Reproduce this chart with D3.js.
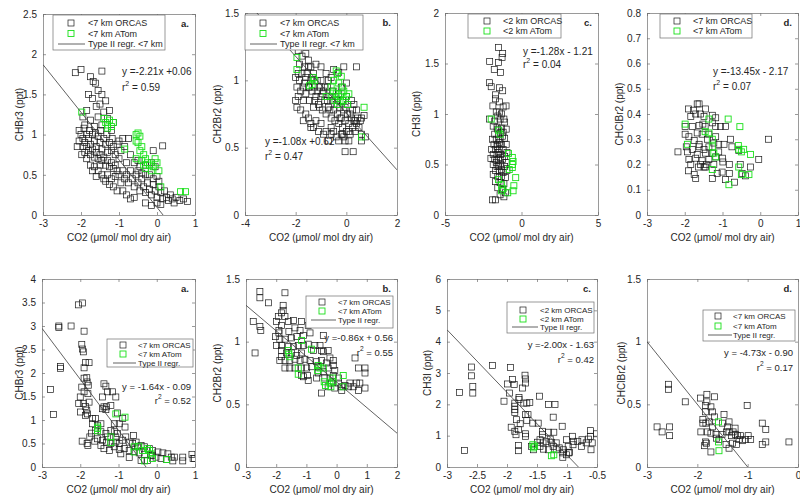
<!DOCTYPE html>
<html>
<head>
<meta charset="utf-8">
<script src="https://cdn.jsdelivr.net/npm/d3@7"></script>
<style>
  body { margin: 0; background: #fff; }
  svg { font-family: "Liberation Sans", Arial, sans-serif; }
</style>
</head>
<body>
<svg id="chart" width="800" height="500"></svg>
<script>
// ---- data: [CO2, tracer] pairs ----
const orcasA1 = [[-2.15,1.77],[-2.0,1.81],[-1.45,1.79],[-1.75,1.72],[-1.68,1.66],[-1.62,1.64],[-1.55,1.55],[-1.8,1.5],[-1.45,1.5],[-1.7,1.45],[-1.35,1.42],[-1.5,1.38],[-1.6,1.35],[-1.85,1.3],[-1.25,1.3],[-1.4,1.28],[-1.95,1.22],[-1.55,1.22],[-1.3,1.2],[-1.75,1.18],[-1.15,1.15],[-1.45,1.12],[-1.65,1.1],[-1.9,1.12],[-2.05,1.05],[-1.2,1.05],
  [-2.0,1.0],[-1.95,0.95],[-1.9,0.9],[-1.85,1.0],[-1.8,0.95],[-1.75,0.88],[-1.7,1.0],[-1.65,0.92],[-1.6,0.85],[-1.55,0.98],[-1.5,0.9],[-1.45,0.82],[-1.4,0.95],[-1.35,0.88],[-1.3,0.78],[-1.25,0.9],[-1.2,0.8],[-1.15,0.85],[-1.1,0.75],[-1.05,0.88],[-1.0,0.7],[-0.95,0.8],
  [-2.05,0.92],[-1.95,0.85],[-1.9,0.78],[-1.85,0.85],[-1.8,0.8],[-1.75,0.75],[-1.7,0.82],[-1.65,0.72],[-1.6,0.78],[-1.55,0.7],[-1.5,0.75],[-1.45,0.68],[-1.4,0.72],[-1.35,0.62],[-1.3,0.68],[-1.25,0.6],[-1.2,0.65],[-1.15,0.58],[-1.1,0.62],[-1.05,0.55],
  [-1.85,0.7],[-1.75,0.62],[-1.65,0.6],[-1.55,0.55],[-1.45,0.5],[-1.6,0.48],[-1.4,0.45],[-1.3,0.5],[-1.2,0.45],[-1.1,0.48],[-1.0,0.5],[-1.25,0.38],[-1.15,0.35],[-1.05,0.3],[-0.95,0.4],[-1.35,0.42],[-1.5,0.62],[-1.7,0.55],
  [-2.1,0.85],[-1.98,0.75],[-1.92,1.08],[-1.78,1.05],[-1.62,1.02],[-1.48,1.05],[-1.32,1.0],[-1.18,0.95],[-1.0,0.92],[-0.9,0.95],[-0.85,0.85],
  [-0.9,0.55],[-0.85,0.45],[-0.8,0.5],[-0.75,0.4],[-0.7,0.55],[-0.65,0.45],[-0.6,0.35],[-0.55,0.5],[-0.5,0.4],[-0.45,0.3],[-0.4,0.45],[-0.35,0.35],[-0.3,0.28],[-0.25,0.4],[-0.2,0.32],[-0.15,0.25],[-0.1,0.38],[-0.05,0.3],[0.0,0.22],[0.05,0.35],[0.1,0.28],[0.15,0.2],[0.2,0.3],[0.25,0.22],[0.3,0.18],[0.35,0.25],[0.4,0.2],[0.5,0.22],[0.6,0.18],[0.7,0.2],[0.8,0.17],[0.45,0.15],[-0.3,0.15],[-0.15,0.12],[0.0,0.15],[0.1,0.13],
  [-0.9,0.3],[-0.8,0.25],[-0.7,0.2],[-0.6,0.22],[-0.5,0.55],[-0.45,0.6],[-0.4,0.52],[-0.3,0.5],[-0.2,0.5],[-0.1,0.45],[-0.05,0.6],[0.0,0.48],[0.05,0.42],[-0.75,0.95],[-0.7,0.75],[-0.6,0.65],[-0.5,0.68],[-0.3,0.62],[-0.1,0.8],[-0.15,0.65],[0.15,0.86],[-0.8,0.65]];
const atomA1 = [[-1.98,1.28],[-1.4,1.2],[-1.35,1.15],[-1.3,1.12],[-1.25,1.18],[-1.2,1.1],[-1.15,1.15],[-1.3,1.08],[-0.85,0.82],[-0.55,1.0],[-0.5,1.02],[-0.45,0.98],[-0.55,0.92],[-0.5,0.9],[-0.4,0.85],[-0.45,0.8],[-0.35,0.75],[-0.3,0.7],[-0.4,0.68],[-0.25,0.65],[-0.2,0.62],[-0.1,0.6],[0.0,0.65],[-0.3,0.58],[-0.15,0.55],[0.05,0.55],[-0.05,0.7],[0.1,0.35],[0.62,0.29],[0.75,0.29],[-0.55,0.7],[-0.35,0.62]];
const regA1 = [[-3,1.87],[0.16,0]];

const orcasB1 = [[-1.9,1.22],[-1.75,1.18],[-1.6,1.2],[-1.5,1.15],[-1.85,1.12],[-1.65,1.1],[-1.4,1.1],[-1.2,1.12],[-1.3,1.05],[-1.0,1.1],[-0.8,1.05],[-0.5,1.08],[-0.3,1.06],[-0.1,1.1],[-0.6,1.02],
  [-2.0,1.02],[-1.95,0.95],[-1.9,0.88],[-1.85,1.0],[-1.8,0.92],[-1.75,1.05],[-1.7,0.85],[-1.65,0.98],[-1.6,0.9],[-1.55,1.05],[-1.5,0.95],[-1.45,0.85],[-1.4,1.0],[-1.35,0.92],[-1.3,0.8],[-1.25,0.95],[-1.2,0.88],[-1.15,1.0],[-1.1,0.82],[-1.05,0.95],[-1.0,0.88],[-0.95,0.78],[-0.9,0.92],[-0.85,0.85],[-0.8,0.75],[-0.75,0.95],[-0.7,0.8],[-0.65,0.88],[-0.6,0.72],[-0.55,0.85],[-0.5,0.78],[-0.45,0.7],[-0.4,0.82],[-0.35,0.75],[-0.3,0.68],[-0.25,0.8],[-0.2,0.72],[-0.15,0.65],[-0.1,0.78],[-0.05,0.7],[0.0,0.62],[0.05,0.75],[0.1,0.68],[0.15,0.6],[0.2,0.72],[0.25,0.65],[0.3,0.7],[0.35,0.62],[0.4,0.68],[0.5,0.65],[0.6,0.6],[0.75,0.58],[0.7,0.74],[0.4,0.78],[0.2,0.85],[0.3,0.82],[0.0,0.88],[-0.2,0.95],[-0.3,0.9],
  [-2.0,0.85],[-1.95,0.8],[-1.8,0.78],[-1.6,0.75],[-1.7,0.7],[-1.5,0.72],[-1.4,0.68],[-1.3,0.65],[-1.2,0.7],[-1.1,0.62],[-1.0,0.68],[-0.9,0.6],[-0.8,0.62],[-0.7,0.55],[-0.6,0.6],[-0.5,0.62],[-0.4,0.58],[-0.3,0.55],[-0.1,0.58],[-0.6,0.65],[-0.2,0.6],[-0.05,0.55],[0.1,0.55],[-0.05,0.47],[-0.15,0.6],
  [-1.9,1.05],[-1.7,0.95],[-1.6,1.02],[-1.45,0.95],[-1.35,1.02],[-1.25,0.85],[-1.15,0.92],[-1.05,0.8],[-0.95,0.9],[-0.85,0.95],[-0.75,0.85],[-0.65,0.78],[-0.55,0.92],[-0.45,0.88],[-0.35,0.85],[-0.25,0.72],[-0.15,0.85],[-0.05,0.8],[0.05,0.82],[0.15,0.75],[0.25,0.78],[0.35,0.7],[0.45,0.72],[0.55,0.7],[0.0,0.98],[-0.7,1.0],[-1.0,1.0],[-1.5,1.1],[0.1,0.62],[0.6,0.55],[0.4,1.1],[0.27,0.47],[-1.4,0.65],[0.6,0.72]];
const atomB1 = [[-1.95,1.17],[-1.95,1.08],[-1.3,1.02],[-1.25,1.0],[-1.35,0.97],[-1.45,0.96],[-0.4,1.07],[-0.35,1.05],[-0.2,1.03],[-0.5,1.0],[-0.3,0.98],[-0.6,0.95],[-0.5,0.92],[-0.4,0.9],[-0.3,0.88],[-0.2,0.9],[-0.1,0.92],[0.0,0.88],[0.1,0.9],[-0.45,0.85],[-0.35,0.82],[-0.25,0.84],[-0.1,0.85],[0.05,0.82],[-0.6,0.88],[0.7,0.8],[0.6,0.58],[-0.8,0.88],[-0.15,0.95]];
const regB1 = [[-3.53,1.5],[2,0.335]];

const orcasC1 = [[-1.5,1.66],[-1.23,1.6],[-1.27,1.56],[-2.08,1.52],[-1.5,1.51],[-1.78,1.44],[-1.38,1.41],[-2.1,1.31],[-1.98,1.27],[-1.43,1.26],[-1.7,1.19],[-1.23,1.23],[-1.43,1.12],[-1.01,1.08],[-1.87,1.08],[-1.2,1.07],[-1.65,1.02],[-1.3,1.0],[-1.55,0.98],[-2.1,0.95],[-1.75,0.93],[-1.4,0.95],[-1.1,0.92],[-1.85,0.88],[-1.6,0.87],[-1.3,0.86],[-1.0,0.85],[-1.75,0.8],[-1.5,0.8],[-1.2,0.82],[-1.9,0.75],[-1.65,0.75],[-1.4,0.75],[-1.1,0.76],[-1.8,0.7],[-1.55,0.7],[-1.3,0.7],[-1.0,0.7],[-1.95,0.65],[-1.7,0.65],[-1.45,0.65],[-1.2,0.65],[-0.95,0.62],[-1.85,0.6],[-1.6,0.6],[-1.35,0.6],[-1.1,0.58],[-2.0,0.56],[-1.75,0.55],[-1.5,0.55],[-1.25,0.55],[-1.0,0.52],[-1.85,0.5],[-1.6,0.48],[-1.35,0.5],[-1.1,0.48],[-1.7,0.44],[-1.45,0.43],[-1.2,0.42],[-0.95,0.44],[-1.85,0.4],[-1.55,0.38],[-1.3,0.38],[-1.05,0.37],[-1.7,0.33],[-1.4,0.32],[-1.15,0.31],[-1.55,0.27],[-1.25,0.25],[-1.05,0.22],[-1.4,0.2],[-1.15,0.18],[-1.9,0.15],[-1.7,0.15],[-1.5,0.48],[-1.65,0.52],[-1.4,0.57],[-1.5,0.62],[-1.3,0.45],[-1.45,0.72],[-1.6,0.68],[-1.25,0.78],[-1.55,0.85],[-1.35,0.82],[-1.15,0.95],[-1.45,1.02],[-1.7,1.15]];
const atomC1 = [[-1.98,0.95],[-1.5,0.84],[-1.4,0.8],[-0.85,0.61],[-0.6,0.57],[-0.55,0.53],[-0.6,0.5],[-0.6,0.47],[-0.38,0.37],[-1.5,0.35],[-1.3,0.3],[-1.2,0.26],[-0.5,0.29],[-0.55,0.24],[-0.9,0.22],[-1.3,0.24],[-0.8,0.45]];

const orcasD1 = [[-2.18,0.25],[-1.9,0.42],[-1.67,0.44],[-1.62,0.44],[-1.77,0.415],[-1.45,0.42],[-1.58,0.4],[-1.71,0.4],[-1.49,0.39],[-1.27,0.395],[-1.18,0.385],[-1.27,0.365],[-1.18,0.35],[-1.84,0.39],
  [-1.99,0.35],[-1.8,0.35],[-1.62,0.355],[-1.52,0.36],[-1.46,0.35],[-1.05,0.35],[-0.92,0.35],
  [-1.99,0.32],[-1.89,0.31],[-1.67,0.325],[-1.54,0.32],[-1.36,0.32],[-1.18,0.31],[-1.75,0.295],[-1.62,0.28],[-1.4,0.3],[-1.23,0.285],[-1.1,0.28],[-0.96,0.28],[-0.79,0.3],[0.22,0.3],
  [-1.96,0.27],[-1.8,0.26],[-1.62,0.27],[-1.49,0.26],[-1.36,0.27],[-1.93,0.25],[-1.67,0.24],[-1.45,0.245],[-1.27,0.245],[-1.1,0.25],[-0.75,0.27],[-0.57,0.255],
  [-1.89,0.22],[-1.71,0.225],[-1.54,0.215],[-1.36,0.22],[-1.18,0.23],[-1.0,0.225],[-0.04,0.22],
  [-1.84,0.2],[-1.64,0.19],[-1.58,0.2],[-1.49,0.19],[-1.43,0.2],[-1.23,0.2],[-0.99,0.21],[-0.82,0.2],[-0.53,0.2],[-0.26,0.19],[-0.39,0.155],[-0.48,0.165],
  [-1.9,0.175],[-1.75,0.16],[-1.71,0.145],[-1.27,0.145],[-1.14,0.165],[-1.01,0.17],[-0.92,0.14],[-0.82,0.165],[-0.68,0.13],[-1.45,0.19]];
const atomD1 = [[-1.99,0.36],[-1.93,0.28],[-1.36,0.38],[-1.46,0.33],[-1.36,0.325],[-1.27,0.3],[-1.27,0.27],[-1.23,0.245],[-1.18,0.23],[-1.27,0.18],[-0.85,0.38],[-0.54,0.35],[-0.58,0.275],[-0.57,0.26],[-0.5,0.25],[-0.44,0.26],[-0.26,0.24],[-0.57,0.19],[-0.5,0.16],[-0.3,0.16],[-0.83,0.12]];

const orcasA2 = [[-2.56,3.0],[-2.56,2.97],[-2.24,3.0],[-2.52,2.14],[-2.52,2.1],[-2.78,1.65],[-2.7,1.12],
  [-2.05,3.45],[-1.94,3.49],[-1.9,2.89],[-1.96,2.61],[-1.94,2.51],[-1.92,2.45],[-1.86,2.22],[-1.77,2.22],[-1.9,2.11],[-1.9,1.89],[-1.83,1.9],[-1.82,1.81],[-1.79,1.74],[-1.96,1.7],[-1.9,1.6],[-1.8,1.56],[-2.0,1.49],[-2.04,1.35],[-1.92,1.35],[-1.86,1.29],[-1.77,1.38],[-1.83,1.21],[-1.86,1.1],[-1.81,1.13],[-1.95,0.55],[-1.82,0.5],[-1.8,0.46],[-1.71,0.72],
  [-1.38,1.77],[-1.33,1.72],[-1.29,1.6],[-1.16,1.6],[-1.07,1.49],[-1.42,1.49],[-1.31,1.28],[-1.38,1.28],[-1.42,1.24],[-1.33,1.22],[-1.2,1.31],[-1.03,1.15],[-0.89,1.03],[-0.83,0.85],[-0.98,0.92],[-1.11,0.92],
  [-1.68,0.92],[-1.55,0.89],[-1.46,0.92],[-1.6,0.78],[-1.46,0.75],[-1.33,0.71],[-1.2,0.78],[-1.11,0.75],[-1.03,0.71],
  [-1.55,0.6],[-1.42,0.57],[-1.31,0.53],[-1.2,0.5],[-1.07,0.53],[-0.98,0.5],[-0.89,0.57],[-0.81,0.64],[-0.72,0.53],[-0.63,0.5],[-0.54,0.53],[-0.41,0.46],[-0.32,0.43],[-0.19,0.39],[-0.11,0.35],[0.03,0.32],[0.16,0.3],[0.29,0.28],[0.46,0.21],[0.68,0.21],[0.92,0.27],[0.68,0.13],[0.42,0.13],[0.95,0.18],[0.99,0.18],
  [-1.11,0.43],[-0.98,0.37],[-0.85,0.39],[-0.72,0.35],[-0.59,0.33],[-0.46,0.3],[-0.32,0.27],[-0.15,0.25],[-0.02,0.21],[0.11,0.18],[0.25,0.16],[-0.24,0.14],[-0.41,0.14],[-0.72,0.2],[-0.94,0.28],[-1.24,0.35],
  [-1.46,0.46],[-1.38,0.39],[-1.29,0.64],[-1.07,0.64],[-0.61,0.67],[-0.5,0.43],[-0.11,0.25],[0.38,0.21],[-1.68,1.03],[-1.6,1.03],[-1.75,0.64],[-1.62,0.55],[-1.99,1.17]];
const atomA2 = [[-1.55,0.82],[-1.55,0.77],[-1.54,0.85],[-1.2,0.64],[-1.2,0.52],[-1.07,1.13],[-0.83,1.06],[-0.59,0.43],[-0.59,0.32],[-0.47,0.44],[-0.37,0.35],[-0.32,0.13],[-0.19,0.35],[-0.15,0.28],[-0.11,0.18],[0.26,0.16],[-0.24,0.39]];
const regA2 = [[-3,2.95],[-0.28,0]];

const orcasB2 = [[-2.76,1.16],[-2.7,0.91],[-2.54,1.4],[-2.54,1.35],[-2.54,1.12],[-2.51,1.09],[-2.26,1.31],[-1.71,1.39],[-1.77,1.29],[-1.77,1.25],[-1.82,1.23],[-1.93,1.2],[-1.71,1.2],[-1.99,1.16],[-1.82,1.13],[-1.6,1.16],[-1.43,1.17],[-1.16,1.16],[-1.21,1.09],[-0.94,1.13],[-0.88,1.07],[-1.38,1.11],[-1.58,1.08],[-1.91,1.09],
  [-2.02,1.04],[-1.88,1.02],[-1.71,1.02],[-1.49,1.03],[-1.32,1.04],[-1.1,1.05],[-1.99,0.97],[-1.82,0.97],[-1.6,0.96],[-1.43,0.96],[-1.27,0.97],[-1.1,0.97],[-0.94,0.98],[-0.72,0.97],[-0.55,0.97],[-0.28,0.93],[-0.44,0.92],
  [-1.82,0.93],[-1.66,0.91],[-1.49,0.91],[-1.32,0.89],[-1.16,0.91],[-1.88,0.85],[-1.71,0.85],[-1.55,0.85],[-1.38,0.86],[-1.21,0.85],[-1.05,0.86],[-0.88,0.85],[-0.66,0.84],[-0.5,0.85],[-0.33,0.83],[-0.61,0.8],
  [-1.71,0.79],[-1.55,0.79],[-1.38,0.79],[-1.16,0.79],[-0.99,0.79],[-0.83,0.8],[-0.28,0.79],[-0.11,0.81],[-0.06,0.77],[-0.44,0.76],[-0.61,0.75],[-0.96,0.73],[-1.16,0.73],[-0.94,0.69],[-0.66,0.71],[-0.39,0.71],[-0.22,0.71],[-0.11,0.73],[0.06,0.71],
  [-0.17,0.67],[-0.28,0.64],[0.06,0.67],[0.17,0.61],[0.28,0.65],[0.44,0.67],[0.55,0.64],[0.66,0.67],[0.72,0.61],[0.94,0.63],[0.77,0.67],[0.94,0.75],[0.94,0.79],[0.72,0.79],[0.61,0.87],[-0.22,0.87],[-0.11,0.85],[-0.5,0.93],[-0.77,0.93],[-0.44,1.05],[-1.82,0.88],[-1.91,1.07],[-1.1,0.72],[-0.5,0.59],[0.39,0.64],[0.17,0.64],[-0.06,0.63]];
const atomB2 = [[-1.6,0.93],[-1.58,0.9],[-1.55,0.88],[-1.16,1.01],[-1.27,0.79],[-1.27,0.74],[-0.83,0.94],[-0.61,0.81],[-0.63,0.77],[-0.55,0.79],[-0.44,0.79],[-0.41,0.68],[-0.37,0.65],[-0.22,0.67],[-0.19,0.64],[-0.11,0.68],[-0.14,0.71],[0.22,0.73],[0.22,0.64]];
const regB2 = [[-3,1.29],[2,0.27]];

const orcasC2 = [[-2.79,2.38],[-2.71,0.53],[-2.59,3.19],[-2.59,2.91],[-2.57,2.57],[-2.57,2.36],[-2.24,3.24],[-2.05,2.1],[-1.99,2.65],[-1.96,2.36],[-1.94,3.18],[-1.91,2.79],[-1.88,2.63],[-1.93,1.27],[-1.87,2.04],[-1.87,1.94],[-1.87,1.83],[-1.87,1.74],[-1.84,1.51],[-1.85,1.03],[-1.81,1.19],[-1.81,0.69],[-1.81,0.52],[-1.8,2.22],[-1.8,2.15],
  [-1.7,2.93],[-1.69,2.81],[-1.69,2.68],[-1.74,2.52],[-1.72,2.04],[-1.67,2.04],[-1.69,1.67],[-1.65,1.67],[-1.69,1.06],[-1.69,0.98],[-1.62,2.06],[-1.59,0.66],[-1.57,1.4],[-1.48,1.4],[-1.46,2.26],[-1.41,1.14],[-1.41,1.03],[-1.4,0.77],[-1.39,0.57],[-1.49,0.79],[-1.45,0.87],[-1.34,0.82],
  [-1.31,1.99],[-1.2,1.99],[-1.23,1.59],[-1.22,1.11],[-1.31,1.11],[-1.28,0.89],[-1.26,0.79],[-1.31,0.55],[-1.23,0.66],[-1.18,0.55],[-1.13,0.61],[-1.08,1.3],[-1.06,0.55],[-1.07,0.45],[-1.07,0.31],[-1.01,0.87],[-0.98,0.66],[-0.96,0.47],[-0.91,0.98],[-0.9,0.71],[-0.89,0.82],[-0.82,0.82],[-0.76,0.66],[-0.75,0.87],[-0.68,0.77],[-0.64,0.89],[-0.61,0.98],[-0.58,0.77],[-0.51,1.06],[-0.6,0.55],[-0.61,1.16],[-0.97,0.45],[-1.56,0.55],[-1.45,0.66],[-1.18,0.77],[-1.01,0.39],[-1.67,1.49],[-1.78,1.38],[-1.87,1.14]];
const atomC2 = [[-1.57,0.71],[-1.56,0.61],[-1.54,0.66],[-1.26,0.36],[-1.22,0.39]];
const regC2 = [[-3,4.38],[-0.81,0]];

const orcasD2 = [[-2.8,0.32],[-2.7,0.28],[-2.57,0.66],[-2.57,0.62],[-2.55,0.32],[-2.55,0.25],[-2.24,0.52],[-1.94,0.55],[-1.89,0.38],[-1.84,0.49],[-1.84,0.44],[-1.81,0.58],[-1.81,0.52],[-1.73,0.48],[-1.7,0.44],[-1.66,0.56],[-1.66,0.4],[-1.93,0.28],[-1.89,0.35],[-1.83,0.35],[-1.76,0.36],[-1.8,0.28],[-1.73,0.27],[-1.86,0.17],[-1.82,0.19],[-1.84,0.2],[-1.73,0.12],[-1.62,0.23],[-1.51,0.26],[-1.47,0.42],
  [-1.42,0.28],[-1.4,0.32],[-1.37,0.36],[-1.37,0.28],[-1.32,0.25],[-1.29,0.28],[-1.25,0.31],[-1.24,0.26],[-1.2,0.25],[-1.17,0.22],[-1.14,0.25],[-1.1,0.21],[-1.04,0.22],[-0.99,0.25],[-0.94,0.22],[-1.01,0.49],[-1.43,0.18],[-1.37,0.15],[-1.3,0.19],[-1.22,0.18],[-1.57,0.22],[-0.71,0.35],[-0.64,0.3],[-0.71,0.18],[-0.64,0.2],[-0.18,0.2],[-1.7,0.32],[-1.63,0.26],[-1.5,0.35]];
const atomD2 = [[-1.58,0.36],[-1.58,0.2],[-1.57,0.13]];
const regD2 = [[-3,1.0],[-1,0]];

// ---- ticks ----
const xTicksA1 = [-3,-2,-1,0,1], yTicksA1 = [0,0.5,1,1.5,2,2.5];
const xTicksB1 = [-4,-2,0,2], yTicksB1 = [0,0.5,1,1.5];
const xTicksC1 = [-5,0,5], yTicksC1 = [0,0.5,1,1.5,2];
const xTicksD1 = [-3,-2,-1,0,1], yTicksD1 = [0,0.1,0.2,0.3,0.4,0.5,0.6,0.7,0.8];
const xTicksA2 = [-3,-2,-1,0,1], yTicksA2 = [0,0.5,1,1.5,2,2.5,3,3.5,4];
const xTicksB2 = [-3,-2,-1,0,1,2], yTicksB2 = [0,0.5,1,1.5];
const xTicksC2 = [-3,-2.5,-2,-1.5,-1,-0.5], yTicksC2 = [0,1,2,3,4,5,6];
const xTicksD2 = [-3,-2,-1,0], yTicksD2 = [0,0.5,1,1.5];

const xLabel = 'CO2 (\u03bcmol/ mol dry air)';

// ---- layout per panel ----
const panels = [
  {box:[43,195,14,215], xd:[-3,1], yd:[0,2.5], xt:xTicksA1, yt:yTicksA1, yLabel:'CHBr3 (ppt)', yLabelX:20, letter:'a.', orcas:orcasA1, atom:atomA1, reg:regA1,
   leg:{x:53,y:15,w:112,h:35,rows:[23,33.5,44],mx:71,tx:88,lx:[58,85],fs:9,labels:['<7 km ORCAS','<7 km ATom','Type II regr. <7 km']},
   eq:{t:'y =-2.21x +0.06', r:'0.59', x:122, y:[75,91], anchor:'start', fs:10}},
  {box:[245,397,13,215], xd:[-4,2], yd:[0,1.5], xt:xTicksB1, yt:yTicksB1, yLabel:'CH2Br2 (ppt)', yLabelX:218, letter:'b.', orcas:orcasB1, atom:atomB1, reg:regB1,
   leg:{x:245,y:15,w:118,h:35,rows:[23,33.5,44],mx:263,tx:280,lx:[250,277],fs:9,labels:['<7 km ORCAS','<7 km ATom','Type II regr. <7 km']},
   eq:{t:'y =-1.08x +0.62', r:'0.47', x:265, y:[145,160], anchor:'start', fs:10}},
  {box:[445,598,13,215], xd:[-5,5], yd:[0,2], xt:xTicksC1, yt:yTicksC1, yLabel:'CH3I (ppt)', yLabelX:417, letter:'c.', orcas:orcasC1, atom:atomC1, reg:null,
   leg:{x:468,y:14,w:93,h:24,rows:[21,31],mx:487,tx:503,fs:9,labels:['<2 km ORCAS','<2 km ATom']},
   eq:{t:'y =-1.28x - 1.21', r:'0.04', x:523, y:[55,68], anchor:'start', fs:10}},
  {box:[647,798,13,215], xd:[-3,1], yd:[0,0.8], xt:xTicksD1, yt:yTicksD1, yLabel:'CHClBr2 (ppt)', yLabelX:620, letter:'d.', orcas:orcasD1, atom:atomD1, reg:null,
   leg:{x:660,y:14,w:92,h:24,rows:[21,31],mx:677,tx:693,fs:9,labels:['<7 km ORCAS','<7 km ATom']},
   eq:{t:'y =-13.45x - 2.17', r:'0.07', x:713, y:[75,90], anchor:'start', fs:10}},
  {box:[42,195,279,467], xd:[-3,1], yd:[0,4], xt:xTicksA2, yt:yTicksA2, yLabel:'CHBr3 (ppt)', yLabelX:20, letter:'a.', orcas:orcasA2, atom:atomA2, reg:regA2,
   leg:{x:107,y:339,w:86,h:28,rows:[345,354,363],mx:123,tx:138,lx:[113,136],fs:8,labels:['<7 km ORCAS','<7 km ATom','Type II regr.']},
   eq:{t:'y = -1.64x - 0.09', r:'0.52', x:191, y:[390,404], anchor:'end', fs:9.5}},
  {box:[246,397,279,467], xd:[-3,2], yd:[0,1.5], xt:xTicksB2, yt:yTicksB2, yLabel:'CH2Br2 (ppt)', yLabelX:218, letter:'b.', orcas:orcasB2, atom:atomB2, reg:regB2,
   leg:{x:306,y:296,w:87,h:32,rows:[302,311,320],mx:322,tx:338,lx:[311,336],fs:8,labels:['<7 km ORCAS','<7 km ATom','Type II regr.']},
   eq:{t:'y =-0.86x + 0.56', r:'0.55', x:393, y:[341,356], anchor:'end', fs:9.5}},
  {box:[447,597,279,467], xd:[-3,-0.5], yd:[0,6], xt:xTicksC2, yt:yTicksC2, yLabel:'CH3I (ppt)', yLabelX:428, letter:'c.', orcas:orcasC2, atom:atomC2, reg:regC2,
   leg:{x:507,y:302,w:87,h:31,rows:[310,319,327],mx:523,tx:540,lx:[512,538],fs:8,labels:['<2 km ORCAS','<2 km ATom','Type II regr.']},
   eq:{t:'y =-2.00x - 1.63', r:'0.42', x:594, y:[348,363], anchor:'end', fs:9.5}},
  {box:[647,798,279,467], xd:[-3,0], yd:[0,1.5], xt:xTicksD2, yt:yTicksD2, yLabel:'CHClBr2 (ppt)', yLabelX:622, letter:'d.', orcas:orcasD2, atom:atomD2, reg:regD2,
   leg:{x:703,y:310,w:92,h:31,rows:[316,326,335],mx:718,tx:733,lx:[708,732],fs:8,labels:['<7 km ORCAS','<7 km ATom','Type II regr.']},
   eq:{t:'y = -4.73x - 0.90', r:'0.17', x:793, y:[356,371], anchor:'end', fs:9.5}}
];

const axisColor = '#6e6e6e';
const textColor = '#262626';
const green = '#19e019';
const ms = 6;

const svg = d3.select('#chart');
const defs = svg.append('defs');

function styleAxis(sel, fs) {
  sel.select('.domain').attr('stroke', axisColor).attr('stroke-width', 0.7);
  sel.selectAll('.tick line').attr('stroke', axisColor).attr('stroke-width', 0.7);
  sel.selectAll('.tick text').attr('fill', textColor).style('font-size', fs + 'px').attr('font-family', null);
}

function drawSquares(g, data, x, y, color, width) {
  g.append('g')
    .selectAll('rect')
    .data(data)
    .join('rect')
    .attr('x', d => x(d[0]) - ms / 2)
    .attr('y', d => y(d[1]) - ms / 2)
    .attr('width', ms)
    .attr('height', ms)
    .attr('fill', 'none')
    .attr('stroke', color)
    .attr('stroke-width', width)
}

panels.forEach((p, i) => {
  const [L, R, T, B] = p.box;
  const x = d3.scaleLinear().domain(p.xd).range([L, R]);
  const y = d3.scaleLinear().domain(p.yd).range([B, T]);
  const fmt = d => String(d);
  const g = svg.append('g');

  defs.append('clipPath').attr('id', 'clip' + i)
    .append('rect').attr('x', L).attr('y', T).attr('width', R - L).attr('height', B - T);

  // box with inward ticks (MATLAB style)
  styleAxis(g.append('g').attr('transform', `translate(0,${B})`)
    .call(d3.axisBottom(x).tickValues(p.xt).tickSizeInner(-3).tickSizeOuter(0).tickPadding(5).tickFormat(fmt)), 10);
  styleAxis(g.append('g').attr('transform', `translate(0,${T})`)
    .call(d3.axisTop(x).tickValues(p.xt).tickSizeInner(-3).tickSizeOuter(0).tickFormat('')), 10);
  styleAxis(g.append('g').attr('transform', `translate(${L},0)`)
    .call(d3.axisLeft(y).tickValues(p.yt).tickSizeInner(-3).tickSizeOuter(0).tickPadding(6).tickFormat(fmt)), 10);
  styleAxis(g.append('g').attr('transform', `translate(${R},0)`)
    .call(d3.axisRight(y).tickValues(p.yt).tickSizeInner(-3).tickSizeOuter(0).tickFormat('')), 10);

  const plot = g.append('g').attr('clip-path', `url(#clip${i})`);
  drawSquares(plot, p.orcas, x, y, '#1a1a1a', 0.7);
  drawSquares(plot, p.atom, x, y, green, 0.9);

  if (p.reg) {
    plot.append('line')
      .attr('x1', x(p.reg[0][0])).attr('y1', y(p.reg[0][1]))
      .attr('x2', x(p.reg[1][0])).attr('y2', y(p.reg[1][1]))
      .attr('stroke', '#3a3a3a').attr('stroke-width', 0.8);
  }

  // axis labels
  g.append('text')
    .attr('x', (L + R) / 2).attr('y', B + 26)
    .attr('text-anchor', 'middle').attr('fill', textColor).style('font-size', '10px')
    .text(xLabel);
  g.append('text')
    .attr('transform', `translate(${p.yLabelX + 3},${(T + B) / 2}) rotate(-90)`)
    .attr('text-anchor', 'middle').attr('fill', textColor).style('font-size', '10px')
    .text(p.yLabel);

  // panel letter
  g.append('text')
    .attr('x', R - 6).attr('y', T + 13)
    .attr('text-anchor', 'end').attr('fill', textColor)
    .style('font-size', '9.5px').style('font-weight', 'bold')
    .text(p.letter);

  // legend
  const lg = p.leg;
  g.append('rect')
    .attr('x', lg.x).attr('y', lg.y).attr('width', lg.w).attr('height', lg.h)
    .attr('fill', '#fff').attr('stroke', axisColor).attr('stroke-width', 0.7);
  lg.labels.forEach((lab, k) => {
    const ry = lg.rows[k];
    if (k < 2) {
      g.append('rect')
        .attr('x', lg.mx - ms / 2).attr('y', ry - ms / 2).attr('width', ms).attr('height', ms)
        .attr('fill', 'none').attr('stroke', k === 0 ? '#1a1a1a' : green).attr('stroke-width', k === 0 ? 0.7 : 0.9);
    } else {
      g.append('line')
        .attr('x1', lg.lx[0]).attr('x2', lg.lx[1]).attr('y1', ry).attr('y2', ry)
        .attr('stroke', '#3a3a3a').attr('stroke-width', 0.8);
    }
    g.append('text')
      .attr('x', lg.tx).attr('y', ry + lg.fs * 0.35)
      .attr('fill', textColor).style('font-size', lg.fs + 'px')
      .text(lab);
  });

  // regression equation and r^2
  const e = p.eq;
  g.append('text')
    .attr('x', e.x).attr('y', e.y[0])
    .attr('text-anchor', e.anchor).attr('fill', textColor).style('font-size', e.fs + 'px')
    .text(e.t);
  const r2 = g.append('text')
    .attr('x', e.x).attr('y', e.y[1])
    .attr('text-anchor', e.anchor).attr('fill', textColor).style('font-size', e.fs + 'px');
  r2.append('tspan').text('r');
  r2.append('tspan').attr('dy', -5).style('font-size', (e.fs * 0.7) + 'px').text('2');
  r2.append('tspan').attr('dy', 5).text(' = ' + e.r);
});
</script>
</body>
</html>
